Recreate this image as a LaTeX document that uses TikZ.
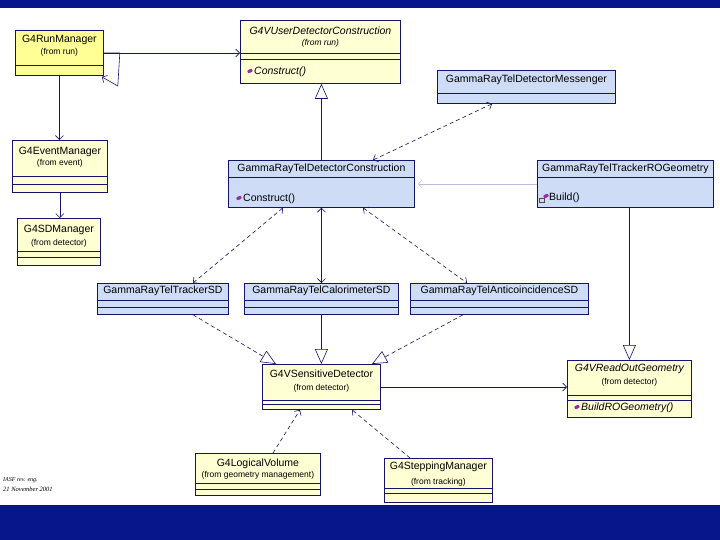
\documentclass[tikz,border=0pt]{standalone}
\usepackage{fontspec}
\setmainfont{Liberation Sans}
\newfontfamily\notefont{Liberation Serif}
\usetikzlibrary{arrows.meta,calc}

\definecolor{barblue}{RGB}{8,22,140}
\definecolor{linenavy}{RGB}{20,20,110}
\definecolor{classyellow}{RGB}{255,255,212}
\definecolor{runyellow}{RGB}{255,255,150}
\definecolor{classblue}{RGB}{206,220,246}
\definecolor{iconpurple}{RGB}{160,40,170}
\definecolor{faintline}{RGB}{185,190,220}

\tikzstyle{uml class}  = [draw=linenavy,line width=0.8pt,inner sep=0,anchor=north west]
\tikzstyle{yellow class} = [uml class,fill=classyellow]
\tikzstyle{blue class}   = [uml class,fill=classblue]
\tikzstyle{class name} = [inner sep=0,font=\fontsize{10.5}{12}\selectfont]
\tikzstyle{class from} = [inner sep=0,font=\fontsize{8.5}{10}\selectfont]
\tikzstyle{method}     = [inner sep=0,anchor=west,font=\fontsize{10.5}{12}\selectfont]
\tikzstyle{method icon}= [fill=iconpurple,inner sep=0,minimum width=5pt,minimum height=3.2pt,rounded corners=0.8pt,rotate=25]
\tikzstyle{class line} = [draw=linenavy,line width=0.8pt]

\begin{document}
\begin{tikzpicture}[x=1pt,y=-1pt]

    \tikzstyle{assoc}=[draw=linenavy,line width=0.6pt,-{Straight Barb[length=4pt,width=8pt]}]
    \tikzstyle{assoc both}=[draw=linenavy,line width=0.6pt,{Straight Barb[length=4pt,width=8pt]}-{Straight Barb[length=4pt,width=8pt]}]
    \tikzstyle{dep both}=[assoc both,dash pattern=on 4pt off 3pt]
    \tikzstyle{dep}=[assoc,dash pattern=on 4pt off 3pt]
    \tikzstyle{gen}=[draw=linenavy,line width=0.6pt,-{Triangle[open,length=15pt,width=13pt,fill=white]}]
    \tikzstyle{gen dashed}=[gen,dash pattern=on 4pt off 3pt]

    \useasboundingbox (0,0) rectangle (720,540);
    \fill[white] (0,0) rectangle (720,540);
    % slide bars
    \fill[barblue] (0,0) rectangle (720,8);
    \fill[barblue] (0,505) rectangle (720,540);

    % G4RunManager
    \node(run)[uml class,fill=runyellow,minimum width=88,minimum height=45] at (15,30) {};
    \node(runN)[class name] at ([yshift=-10pt]run.north) {G4RunManager};
    \node(runF)[class from] at ([yshift=-22pt]run.north) {(from run)};
    \draw[class line] ([yshift=-35pt]run.north west) -- ([yshift=-35pt]run.north east);

    % G4VUserDetectorConstruction
    \node(udc)[yellow class,minimum width=160,minimum height=63] at (240,20) {};
    \node(udcN)[class name,font=\fontsize{10.5}{12}\selectfont\itshape] at ([yshift=-11pt]udc.north) {G4VUserDetectorConstruction};
    \node(udcF)[class from,font=\fontsize{8.5}{10}\selectfont\itshape] at ([yshift=-23pt]udc.north) {(from run)};
    \draw[class line] ([yshift=-33pt]udc.north west) -- ([yshift=-33pt]udc.north east);
    \draw[class line] ([yshift=-39pt]udc.north west) -- ([yshift=-39pt]udc.north east);
    \node(udcI)[method icon] at (250,71) {};
    \node(udcM)[method,font=\fontsize{10.5}{12}\selectfont\itshape] at (254,72) {Construct()};

    % GammaRayTelDetectorMessenger
    \node(msg)[blue class,minimum width=178,minimum height=33] at (437,70) {};
    \node(msgN)[class name] at ([yshift=-10pt]msg.north) {GammaRayTelDetectorMessenger};
    \draw[class line] ([yshift=-23pt]msg.north west) -- ([yshift=-23pt]msg.north east);

    % GammaRayTelDetectorConstruction
    \node(dc)[blue class,minimum width=186,minimum height=47] at (228,160) {};
    \node(dcN)[class name] at ([yshift=-9pt]dc.north) {GammaRayTelDetectorConstruction};
    \draw[class line] ([yshift=-17pt]dc.north west) -- ([yshift=-17pt]dc.north east);
    \node(dcI)[method icon] at (239,198) {};
    \node(dcM)[method] at (243,199) {Construct()};

    % GammaRayTelTrackerROGeometry
    \node(ro)[blue class,minimum width=176,minimum height=47] at (537,160) {};
    \node(roN)[class name] at ([yshift=-9pt]ro.north) {GammaRayTelTrackerROGeometry};
    \draw[class line] ([yshift=-17pt]ro.north west) -- ([yshift=-17pt]ro.north east);
    \node(roL)[draw=black!70,fill=black!15,inner sep=0,minimum width=5pt,minimum height=4pt] at (542,200) {};
    \node(roI)[method icon] at (546,196) {};
    \node(roM)[method] at (549,198) {Build()};

    % G4EventManager
    \node(ev)[yellow class,minimum width=95,minimum height=52] at (12,140) {};
    \node(evN)[class name] at ([yshift=-12pt]ev.north) {G4EventManager};
    \node(evF)[class from] at ([yshift=-23pt]ev.north) {(from event)};
    \draw[class line] ([yshift=-36pt]ev.north west) -- ([yshift=-36pt]ev.north east);
    \draw[class line] ([yshift=-44pt]ev.north west) -- ([yshift=-44pt]ev.north east);

    % G4SDManager
    \node(sdm)[yellow class,minimum width=83,minimum height=47] at (17,218) {};
    \node(sdmN)[class name] at ([yshift=-12pt]sdm.north) {G4SDManager};
    \node(sdmF)[class from] at ([yshift=-25pt]sdm.north) {(from detector)};
    \draw[class line] ([yshift=-33pt]sdm.north west) -- ([yshift=-33pt]sdm.north east);
    \draw[class line] ([yshift=-39pt]sdm.north west) -- ([yshift=-39pt]sdm.north east);

    % sensitive detectors of the telescope
    \node(tsd)[blue class,minimum width=131,minimum height=31] at (97,283) {};
    \node(tsdN)[class name] at ([yshift=-8pt]tsd.north) {GammaRayTelTrackerSD};
    \draw[class line] ([yshift=-17pt]tsd.north west) -- ([yshift=-17pt]tsd.north east);
    \draw[class line] ([yshift=-24pt]tsd.north west) -- ([yshift=-24pt]tsd.north east);

    \node(csd)[blue class,minimum width=154,minimum height=31] at (244,283) {};
    \node(csdN)[class name] at ([yshift=-8pt]csd.north) {GammaRayTelCalorimeterSD};
    \draw[class line] ([yshift=-17pt]csd.north west) -- ([yshift=-17pt]csd.north east);
    \draw[class line] ([yshift=-24pt]csd.north west) -- ([yshift=-24pt]csd.north east);

    \node(asd)[blue class,minimum width=178,minimum height=31] at (410,283) {};
    \node(asdN)[class name] at ([yshift=-8pt]asd.north) {GammaRayTelAnticoincidenceSD};
    \draw[class line] ([yshift=-17pt]asd.north west) -- ([yshift=-17pt]asd.north east);
    \draw[class line] ([yshift=-24pt]asd.north west) -- ([yshift=-24pt]asd.north east);

    % G4VSensitiveDetector
    \node(vsd)[yellow class,minimum width=118,minimum height=45] at (262,364) {};
    \node(vsdN)[class name] at ([yshift=-10pt]vsd.north) {G4VSensitiveDetector};
    \node(vsdF)[class from] at ([yshift=-24pt]vsd.north) {(from detector)};
    \draw[class line] ([yshift=-36pt]vsd.north west) -- ([yshift=-36pt]vsd.north east);
    \draw[class line] ([yshift=-40pt]vsd.north west) -- ([yshift=-40pt]vsd.north east);

    % G4VReadOutGeometry
    \node(vro)[yellow class,minimum width=124,minimum height=57] at (567,360) {};
    \node(vroN)[class name,font=\fontsize{10.5}{12}\selectfont\itshape] at ([yshift=-9pt]vro.north) {G4VReadOutGeometry};
    \node(vroF)[class from] at ([yshift=-22pt]vro.north) {(from detector)};
    \draw[class line] ([yshift=-35pt]vro.north west) -- ([yshift=-35pt]vro.north east);
    \draw[class line] ([yshift=-40pt]vro.north west) -- ([yshift=-40pt]vro.north east);
    \node(vroI)[method icon] at (577,407) {};
    \node(vroM)[method,font=\fontsize{10.5}{12}\selectfont\itshape] at (581,408) {BuildROGeometry()};

    % G4LogicalVolume
    \node(lv)[yellow class,minimum width=125,minimum height=42] at (195,453) {};
    \node(lvN)[class name] at ([yshift=-11pt]lv.north) {G4LogicalVolume};
    \node(lvF)[class from] at ([yshift=-22pt]lv.north) {(from geometry management)};
    \draw[class line] ([yshift=-30pt]lv.north west) -- ([yshift=-30pt]lv.north east);
    \draw[class line] ([yshift=-36pt]lv.north west) -- ([yshift=-36pt]lv.north east);

    % G4SteppingManager
    \node(stm)[yellow class,minimum width=108,minimum height=44] at (384,458) {};
    \node(stmN)[class name] at ([yshift=-9pt]stm.north) {G4SteppingManager};
    \node(stmF)[class from] at ([yshift=-24pt]stm.north) {(from tracking)};
    \draw[class line] ([yshift=-30pt]stm.north west) -- ([yshift=-30pt]stm.north east);
    \draw[class line] ([yshift=-35pt]stm.north west) -- ([yshift=-35pt]stm.north east);

    % run manager links
    \draw[assoc] ([yshift=-23pt]run.north east) -- ([yshift=-33pt]udc.north west);
    \draw[assoc] ([yshift=-23pt]run.north east) -- ++(16,0) -- ++(-2,33) -- ([xshift=-2pt,yshift=-1pt]run.south east);
    \draw[assoc] (run.south) -- (run.south |- ev.north);
    \draw[assoc] (ev.south) -- (ev.south |- sdm.north);

    % detector construction links
    \draw[gen] (dc.north) -- (dc.north |- udc.south);
    \draw[dep both] ([xshift=55pt]msg.south west) -- ([xshift=145pt]dc.north west);
    \draw[draw=faintline,line width=0.6pt,-{Straight Barb[length=4pt,width=8pt]}] ([yshift=-24pt]ro.north west) -- ([xshift=3pt,yshift=-24pt]dc.north east);
    \draw[gen] (vro.north |- ro.south) -- (vro.north);

    \draw[dep both] ([xshift=55pt]dc.south west) -- ([xshift=96pt]tsd.north west);
    \draw[assoc both] (csd.north |- dc.south) -- (csd.north);
    \draw[dep both] ([xshift=135pt]dc.south west) -- ([xshift=57pt]asd.north west);

    % sensitive detector hierarchy
    \draw[gen dashed] ([xshift=96pt]tsd.south west) -- ([xshift=14pt]vsd.north west);
    \draw[gen] (csd.south) -- (csd.south |- vsd.north);
    \draw[gen dashed] ([xshift=53pt]asd.south west) -- ([xshift=110pt]vsd.north west);
    \draw[assoc] ([yshift=-23pt]vsd.north east) -- ([yshift=-27pt]vro.north west);

    \draw[dep] ([xshift=78pt]lv.north west) -- ([xshift=38pt]vsd.south west);
    \draw[dep] ([xshift=26pt]stm.north west) -- ([xshift=90pt]vsd.south west);

    % footnote
    \node(noteA)[inner sep=0,anchor=west,font=\notefont\fontsize{6}{7}\selectfont\itshape] at (3,480) {IASF rev. eng.};
    \node(noteB)[inner sep=0,anchor=west,font=\notefont\fontsize{6.5}{7}\selectfont\itshape] at (3,489) {21 November 2001};

\end{tikzpicture}
\end{document}
